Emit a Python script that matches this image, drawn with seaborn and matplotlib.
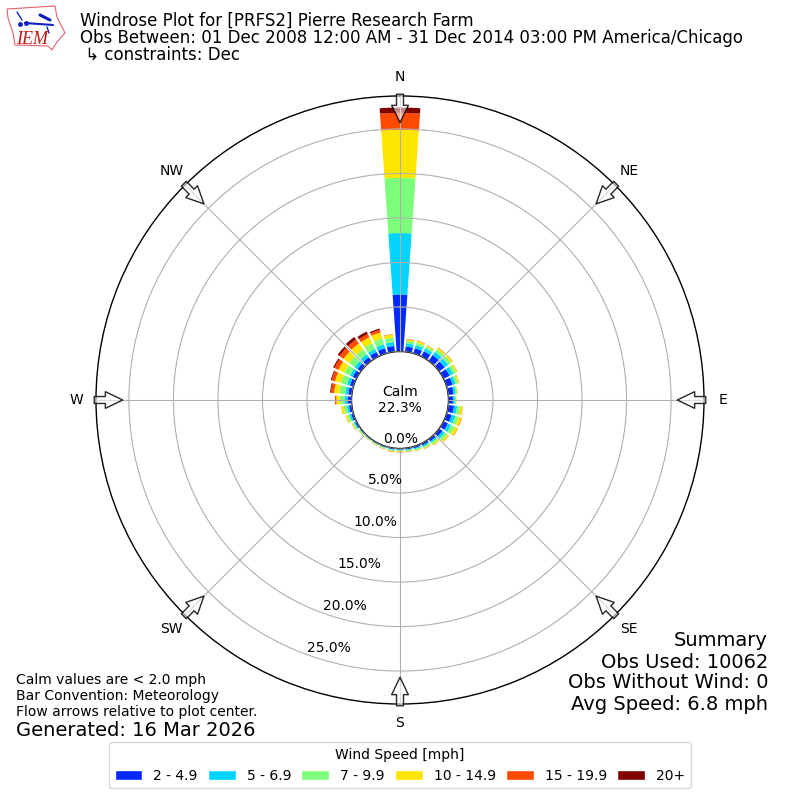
import numpy as np
import pandas as pd
import seaborn as sns
import matplotlib
matplotlib.use("Agg")
import matplotlib.pyplot as plt
from matplotlib.patches import Patch, Polygon

directions = list(range(10, 370, 10))
speed_labels = ["2 - 4.9", "5 - 6.9", "7 - 9.9", "10 - 14.9", "15 - 19.9", "20+"]
colors = ["#0028ff", "#00d4ff", "#7cff7a", "#ffe600", "#ff4a00", "#800000"]
s2_5 = [.6,.6,.65,.8,.75,.75,.7,.6,.5,.65,.6,.55,.45,.3,.25,.2,.15,.12,.12,.1,.09,.08,.1,.18,.25,.3,.45,.4,.4,.45,.45,.5,.55,.6,.65,6.4]
s5_7 = [.35,.35,.35,.45,.5,.45,.35,.25,.2,.35,.4,.4,.3,.2,.17,.13,.1,.1,.1,.08,.07,.06,.08,.15,.2,.25,.35,.35,.35,.35,.4,.4,.4,.45,.45,6.9]
s7_10 = [.3,.3,.25,.35,.4,.35,.28,.17,.15,.35,.4,.45,.35,.22,.15,.12,.1,.1,.1,.08,.07,.06,.09,.15,.25,.35,.5,.65,.7,.7,.75,.7,.7,.7,.5,6.2]
s10_15 = [.15,.2,.12,.2,.22,.18,.15,.08,.05,.27,.35,.35,.22,.15,.1,.08,.07,.08,.08,.06,.05,.04,.06,.1,.18,.28,.4,.6,.7,.75,.8,.8,.75,.7,.35,5.4]
s15_20 = [.05,.05,.03,.05,.03,.02,.02,0,0,.03,.05,.05,.03,.03,.03,.02,.03,.05,.05,.03,.02,.01,.02,.02,.02,.02,.15,.35,.4,.5,.55,.55,.4,.3,.05,1.9]
s20p = [0,0,0,0,0,0,0,0,0,0,0,0,0,0,0,0,0,0,0,0,0,0,0,0,0,0,0,.1,.1,.15,.25,.35,.3,.15,0,.6]
series = [s2_5, s5_7, s7_10, s10_15, s15_20, s20p]
ring_values = [0, 5, 10, 15, 20, 25]
arrow_dirs = {"N": 0, "NE": 45, "E": 90, "SE": 135, "S": 180, "SW": 225, "W": 270, "NW": 315}

sns.set_style("white")
plt.rcParams["font.family"] = ["DejaVu Sans"]
plt.rcParams["text.color"] = "black"
plt.rcParams["xtick.color"] = "black"
plt.rcParams["ytick.color"] = "black"
plt.rcParams["legend.labelcolor"] = "black"
fig = plt.figure(figsize=(8, 8), dpi=100)
ax = fig.add_axes([96/800, 96/800, 608/800, 608/800], projection="polar")
ax.set_theta_zero_location("N")
ax.set_theta_direction(-1)

theta = np.deg2rad(directions)
bottom = np.zeros(len(directions))
for vals, color in zip(series, colors):
    frame = pd.DataFrame({"theta": theta, "pct": vals})
    sns.barplot(data=frame, x="theta", y="pct", native_scale=True, color=color, saturation=1,
                errorbar=None, width=0.8, bottom=bottom, ax=ax, linewidth=0)
    bottom = bottom + np.array(vals)

ax.set_xlabel("")
ax.set_ylabel("")
ax.set_xlim(0, 2*np.pi)
ax.set_rorigin(-5.45)
ax.set_ylim(0, 28.7)
ax.set_thetagrids(list(arrow_dirs.values()), list(arrow_dirs.keys()), fontsize=10)
ax.set_rgrids(ring_values, [f"{v:.1f}%" for v in ring_values], fontsize=10)
ax.set_rlabel_position(200)
ax.grid(True, color="#b0b0b0", linewidth=0.8)
ax.set_axisbelow(False)
ax.tick_params(axis="x", pad=3.5, labelcolor="black")
ax.tick_params(axis="y", labelsize=10, labelcolor="black")
for s in ax.spines.values():
    s.set_visible(True)
    s.set_edgecolor("black")
    s.set_linewidth(1.0)

ax.text(0, -5.45, "Calm\n22.3%", ha="center", va="center", fontsize=10, zorder=6, color="black")

for name, deg in arrow_dirs.items():
    t = np.deg2rad(deg)
    ax.annotate("", xy=(t, 25.7), xytext=(t, 28.9), annotation_clip=False, zorder=7,
                arrowprops=dict(facecolor=(1, 1, 1, 0.55), edgecolor=(0, 0, 0, 0.85),
                                width=5, headwidth=12, headlength=12.5, shrink=0, linewidth=1))

fig.text(80/800, 1-21/800, "Windrose Plot for [PRFS2] Pierre Research Farm", fontsize=12, va="center", color="black")
fig.text(80/800, 1-38/800, "Obs Between: 01 Dec 2008 12:00 AM - 31 Dec 2014 03:00 PM America/Chicago", fontsize=12, va="center", color="black")
fig.text(80/800, 1-55/800, " ↳ constraints: Dec", fontsize=12, va="center", color="black")

fig.text(768/800, 1-640/800, "Summary", fontsize=14, ha="right", va="center", color="black")
fig.text(768/800, 1-662/800, "Obs Used: 10062", fontsize=14, ha="right", va="center", color="black")
fig.text(768/800, 1-683/800, "Obs Without Wind: 0", fontsize=14, ha="right", va="center", color="black")
fig.text(768/800, 1-705/800, "Avg Speed: 6.8 mph", fontsize=14, ha="right", va="center", color="black")

fig.text(16/800, 1-680/800, "Calm values are < 2.0 mph", fontsize=10, va="center", color="black")
fig.text(16/800, 1-696/800, "Bar Convention: Meteorology", fontsize=10, va="center", color="black")
fig.text(16/800, 1-712/800, "Flow arrows relative to plot center.", fontsize=10, va="center", color="black")
fig.text(16/800, 1-730/800, "Generated: 16 Mar 2026", fontsize=14, va="center", color="black")

handles = [Patch(facecolor=c, label=l) for c, l in zip(colors, speed_labels)]
leg = fig.legend(handles=handles, title="Wind Speed [mph]", ncol=6, loc="lower center",
                 bbox_to_anchor=(0.5, 5/800), fontsize=10, title_fontsize=10, columnspacing=0.73)
leg.get_title().set_color("black")

# IEM logo
logo = fig.add_axes([0, 1-60/800, 70/800, 60/800])
logo.set_xlim(0, 70); logo.set_ylim(60, 0); logo.axis("off")
logo.add_patch(Polygon([(7,9),(55,6),(57,17),(65,33),(57,42),(52,50),(48,46),(15,45),(13,33),(8,18)],
                       closed=True, fill=False, edgecolor="#e06070", linewidth=0.8))
logo.plot([25,53], [23,25], color="#1020c0", lw=1.5)
logo.plot([40,50], [15,20], color="#1020c0", lw=2.2)
logo.plot([17,22], [12,20], color="#1020c0", lw=1)
logo.plot([47,49], [27,33], color="#1020c0", lw=1)
logo.plot([20,26], [24,23], "o", color="#1020c0", ms=2.5)
logo.text(16, 39, "IEM", color="#c01818", fontsize=13, family="Liberation Serif", style="italic", va="center")

fig.savefig("out.png", dpi=100)
